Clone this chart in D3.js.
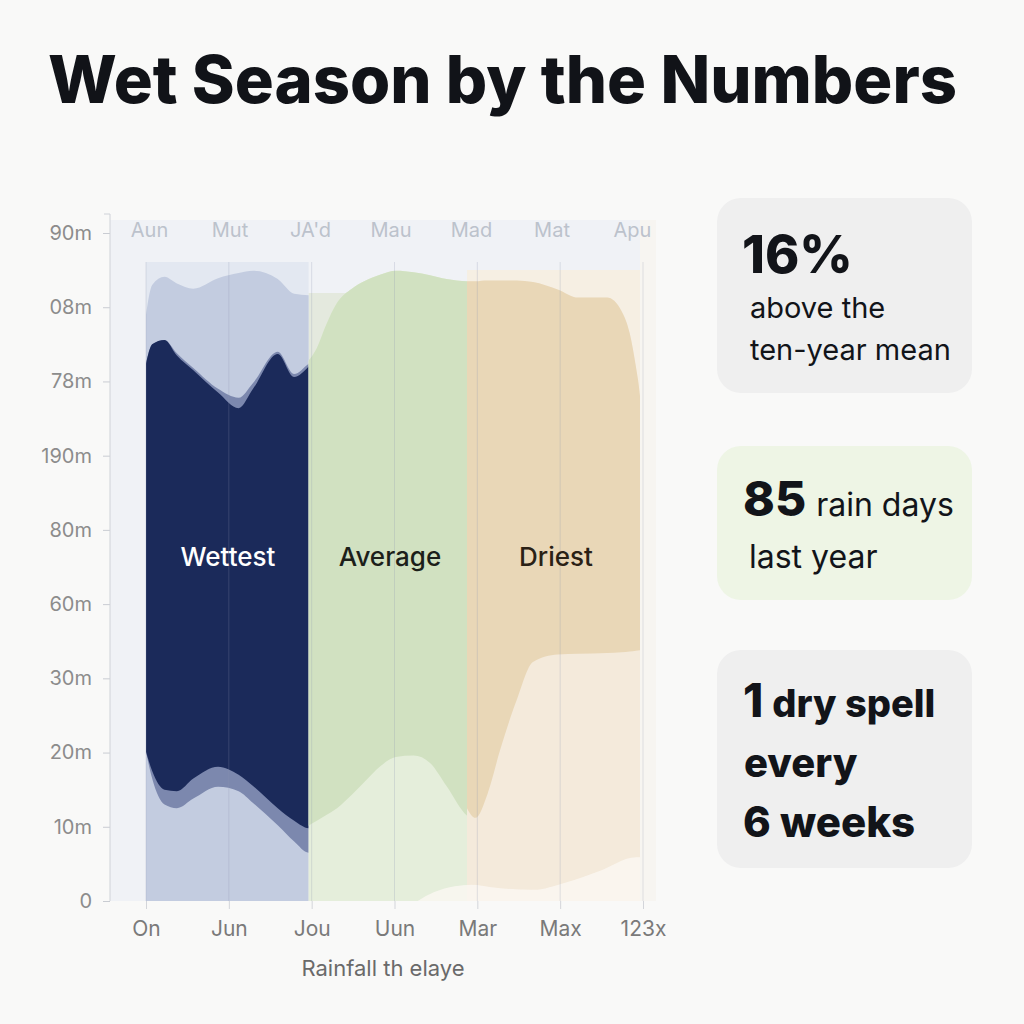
<!DOCTYPE html>
<html>
<head>
<meta charset="utf-8">
<script src="https://cdn.jsdelivr.net/npm/d3@7"></script>
<style>
  body { margin: 0; background: #f9f9f8; }
  svg { display: block; font-family: Inter, "Noto Sans", sans-serif; }
</style>
</head>
<body>
<div id="chart"></div>
<script>
// tick labels (as printed on the chart)
const yTickValues = [0, 10, 20, 30, 40, 50, 60, 70, 80, 90];
const yTickLabels = ["0", "10m", "20m", "30m", "60m", "80m", "190m", "78m", "08m", "90m"];
const topLabels = ["Aun", "Mut", "JA'd", "Mau", "Mad", "Mat", "Apu"];
const bottomLabels = ["On", "Jun", "Jou", "Uun", "Mar", "Max", "123x"];
const bandNames = ["Wettest", "Average", "Driest"];
const bandEdges = [0, 3.95, 7.8, 12];

// wettest band
const wetX = [0, 0.15, 0.45, 0.75, 1.15, 1.75, 2.25, 2.6, 3.2, 3.6, 3.95, 4.1];
const wetCeiling = [79, 83.0, 84.1, 83.2, 82.5, 83.9, 84.6, 84.9, 83.8, 81.8, 81.6, 81.6];
const wetMidTop = [72.4, 75.0, 75.6, 73.8, 71.8, 69.0, 67.8, 69.8, 74.0, 71.0, 72.4, 73.0];
const wetTop = [72.4, 75.0, 75.6, 73.5, 71.5, 68.5, 66.4, 69.0, 73.7, 70.6, 72.0, 73.0];
const wetBottom = [20.1, 17.5, 15.0, 14.8, 16.5, 18.1, 17.0, 15.5, 12.5, 10.8, 9.8, 9.8];
const wetMidBottom = [20.1, 16.5, 13.0, 12.5, 13.8, 15.4, 14.8, 13.2, 10.2, 8.0, 6.5, 6.5];

// average band
const avgX = [3.9, 4.15, 4.35, 4.64, 5.0, 5.3, 5.7, 6.07, 6.5, 6.9, 7.3, 7.8, 7.95];
const avgTop = [72.5, 74.5, 77.3, 80.6, 82.5, 83.5, 84.4, 84.9, 84.7, 84.3, 83.8, 83.5, 83.5];
const avgBottom = [10.0, 10.8, 11.5, 12.5, 14.3, 16.0, 18.2, 19.4, 19.6, 18.6, 15.5, 11.5, 11.0];

// driest band
const dryX = [7.75, 8.0, 8.3, 8.6, 9.0, 9.4, 10.0, 10.5, 11.2, 11.55, 11.75, 11.9, 12.0, 12.1];
const dryTop = [83.5, 83.5, 83.6, 83.6, 83.6, 83.4, 82.4, 81.3, 81.3, 79.5, 76.5, 72, 68, 60];
const dryBottom = [13.0, 11.2, 14.5, 20.3, 27.0, 32.2, 33.2, 33.3, 33.4, 33.5, 33.6, 33.7, 33.8, 33.8];

// pale ground wave along the bottom
const waveX = [6.6, 7.0, 7.5, 7.9, 8.5, 9.4, 10.2, 11.0, 11.9, 12.1];
const waveTop = [0, 1.2, 2.0, 2.2, 1.8, 1.5, 2.5, 4.0, 5.9, 5.9];

const w = 1024;
const h = 1024;
const svg = d3.select("#chart").append("svg").attr("width", w).attr("height", h);
svg.append("rect").attr("width", w).attr("height", h).attr("fill", "#f9f9f8");

const xScale = d3.scaleLinear().domain([0, 12]).range([146, 640]);
const yScale = d3.scaleLinear().domain([0, 90]).range([901, 233]);
const xBottom = d3.scalePoint().domain(bottomLabels).range([146, 643]);
const xTop = d3.scalePoint().domain(topLabels).range([149, 632]);

// title
svg.append("text")
  .attr("x", 48)
  .attr("y", 103)
  .attr("font-size", 66)
  .attr("font-weight", 800)
  .attr("fill", "#111318")
  .attr("textLength", 909)
  .attr("lengthAdjust", "spacingAndGlyphs")
  .text("Wet Season by the Numbers");

// plot background + band panels
svg.append("rect").attr("x", 110).attr("y", 220).attr("width", 546).attr("height", 681).attr("fill", "#f0f2f6");
svg.append("rect").attr("x", 640).attr("y", 220).attr("width", 16).attr("height", 681).attr("fill", "#f7f5f1");
const panelColors = ["#e3e8f1", "#e4e9de", "#f6efe3"];
const panelTops = [262, 293, 270];
bandNames.forEach((name, i) => {
  svg.append("rect")
    .attr("x", xScale(bandEdges[i]))
    .attr("y", panelTops[i])
    .attr("width", xScale(bandEdges[i + 1]) - xScale(bandEdges[i]))
    .attr("height", 901 - panelTops[i])
    .attr("fill", panelColors[i]);
  svg.append("clipPath")
    .attr("id", "clip" + i)
    .append("rect")
    .attr("x", xScale(bandEdges[i]))
    .attr("y", 200)
    .attr("width", xScale(bandEdges[i + 1]) - xScale(bandEdges[i]))
    .attr("height", 701);
});

function band(xs, lo, hi, color, clip, opacity) {
  const rows = xs.map((x, i) => ({ x: x, lo: Array.isArray(lo) ? lo[i] : lo, hi: hi[i] }));
  const area = d3.area()
    .x((d) => xScale(d.x))
    .y0((d) => yScale(d.lo))
    .y1((d) => yScale(d.hi))
    .curve(d3.curveMonotoneX);
  svg.append("path")
    .datum(rows)
    .attr("d", area)
    .attr("fill", color)
    .attr("opacity", opacity || 1)
    .attr("clip-path", "url(#clip" + clip + ")");
}

// wettest
band(wetX, 0, wetCeiling, "#c3cce0", 0);
band(wetX, wetMidBottom, wetMidTop, "#7c88ae", 0);
band(wetX, wetBottom, wetTop, "#1b2a5a", 0);
// average
band(avgX, 0, avgTop, "#e5eedb", 1);
band(avgX, avgBottom, avgTop, "#d1e1c1", 1);
// driest
band(dryX, 0, dryTop, "#f4eadb", 2);
band(dryX, dryBottom, dryTop, "#e9d7b7", 2);
// ground wave
svg.append("clipPath").attr("id", "clipPlot")
  .append("rect").attr("x", 146).attr("y", 200).attr("width", 494).attr("height", 701);
svg.append("path")
  .datum(waveX.map((x, i) => ({ x: x, v: waveTop[i] })))
  .attr("d", d3.area().x((d) => xScale(d.x)).y0(yScale(0)).y1((d) => yScale(d.v)).curve(d3.curveMonotoneX))
  .attr("fill", "#fbf8f2")
  .attr("opacity", 0.8)
  .attr("clip-path", "url(#clipPlot)");

// vertical gridlines
svg.selectAll(".grid")
  .data(bottomLabels)
  .enter()
  .append("line")
  .attr("class", "grid")
  .attr("x1", (d) => xBottom(d))
  .attr("x2", (d) => xBottom(d))
  .attr("y1", 262)
  .attr("y2", 901)
  .attr("stroke", "#8e98b2")
  .attr("stroke-opacity", 0.25);

// band labels
const labelColors = ["#ffffff", "#1c1f1a", "#2a2115"];
svg.selectAll(".bandLabel")
  .data(bandNames)
  .enter()
  .append("text")
  .attr("class", "bandLabel")
  .attr("x", (d, i) => [228, 390, 556][i])
  .attr("y", 566)
  .attr("text-anchor", "middle")
  .attr("font-size", 26)
  .attr("font-weight", 500)
  .attr("fill", (d, i) => labelColors[i])
  .text((d) => d);

// y axis
const yAxis = d3.axisLeft(yScale)
  .tickValues(yTickValues)
  .tickSize(7)
  .tickSizeOuter(0)
  .tickFormat((d, i) => yTickLabels[i]);
const gy = svg.append("g").attr("transform", "translate(110,0)").call(yAxis);
gy.select(".domain").remove();
gy.append("line").attr("x1", 0).attr("x2", 0).attr("y1", 214).attr("y2", 901).attr("stroke", "#cfd2d8");
gy.append("line").attr("x1", -6).attr("x2", 0).attr("y1", 214).attr("y2", 214).attr("stroke", "#cfd2d8");
gy.selectAll(".tick line").attr("stroke", "#c9ccd2");
gy.selectAll(".tick text")
  .attr("x", -18)
  .attr("font-family", "Inter, sans-serif")
  .attr("font-size", 20)
  .attr("fill", "#8c8c8c");

// top labels
const xAxisTop = d3.axisTop(xTop).tickSize(0);
const gt = svg.append("g").attr("transform", "translate(0,240)").call(xAxisTop);
gt.select(".domain").remove();
gt.selectAll(".tick text")
  .attr("font-family", "Inter, sans-serif")
  .attr("font-size", 20)
  .attr("fill", "#bcc2cc");

// bottom axis
const xAxis = d3.axisBottom(xBottom).tickSize(8);
const gx = svg.append("g").attr("transform", "translate(0,901)").call(xAxis);
gx.select(".domain").remove();
gx.selectAll(".tick line").attr("stroke", "#d3d5da");
gx.selectAll(".tick text")
  .attr("y", 20)
  .attr("font-family", "Inter, sans-serif")
  .attr("font-size", 21)
  .attr("fill", "#7a7a7a");

svg.append("text")
  .attr("x", 383)
  .attr("y", 976)
  .attr("text-anchor", "middle")
  .attr("font-size", 22)
  .attr("fill", "#6a6a6a")
  .text("Rainfall th elaye");

// stat cards
const cards = [
  { y: 198, h: 195, fill: "#efefef" },
  { y: 446, h: 154, fill: "#eef5e5" },
  { y: 650, h: 218, fill: "#efefef" },
];
svg.selectAll(".card")
  .data(cards)
  .enter()
  .append("rect")
  .attr("class", "card")
  .attr("x", 717)
  .attr("y", (d) => d.y)
  .attr("width", 255)
  .attr("height", (d) => d.h)
  .attr("rx", 24)
  .attr("fill", (d) => d.fill);

function line(x, y, size, weight, str) {
  return svg.append("text")
    .attr("x", x)
    .attr("y", y)
    .attr("font-size", size)
    .attr("font-weight", weight)
    .attr("fill", "#121419")
    .text(str);
}
line(742, 273, 52, 800, "16%");
line(750, 318, 29, 400, "above the");
line(750, 360, 29, 400, "ten-year mean");

const t85 = line(743, 516, 48, 800, "85");
t85.append("tspan").attr("font-size", 32).attr("font-weight", 400).attr("dx", 10).text("rain days");
line(749, 568, 32, 400, "last year");

const t1 = line(743, 717, 46, 800, "1");
t1.append("tspan").attr("font-size", 38).attr("dx", 9).text("dry spell");
line(744, 777, 40, 800, "every");
line(743, 837, 42, 800, "6 weeks");
</script>
</body>
</html>
